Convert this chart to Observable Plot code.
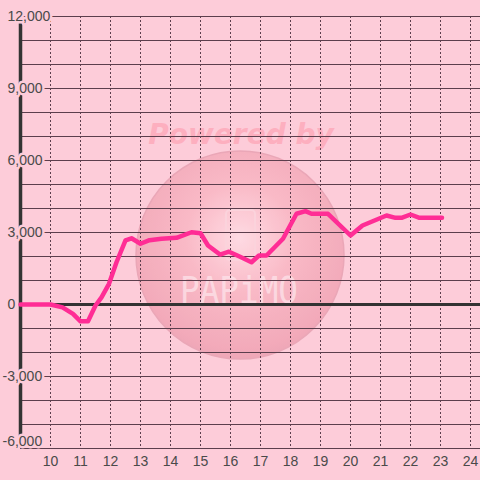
<!DOCTYPE html>
<html>
<head>
<meta charset="utf-8">
<script src="https://cdn.jsdelivr.net/npm/d3@7"></script>
<script src="https://cdn.jsdelivr.net/npm/@observablehq/plot@0.6"></script>
<style>
  html, body { margin: 0; padding: 0; background: #fdccd9; }
  #chart { width: 480px; height: 480px; }
</style>
</head>
<body>
<div id="chart"></div>
<script>
// Time of day (hours) and cumulative value
const hours = [9, 10, 10.4, 10.75, 11.0, 11.25, 11.5, 11.7, 11.95, 12.2, 12.5, 12.7, 13.0, 13.3, 13.7, 14.2, 14.7, 15.0, 15.25, 15.65, 15.95, 16.3, 16.7, 16.95, 17.2, 17.75, 18.2, 18.5, 18.7, 19.25, 20.0, 20.4, 21.2, 21.5, 21.7, 22.0, 22.3, 23.05];
const values = [0, 0, -120, -390, -700, -700, -40, 300, 860, 1760, 2670, 2760, 2530, 2680, 2740, 2780, 3010, 2970, 2460, 2080, 2200, 2000, 1760, 2040, 2040, 2740, 3780, 3890, 3780, 3780, 2875, 3290, 3710, 3610, 3610, 3750, 3610, 3610];

const xTicks = [10, 11, 12, 13, 14, 15, 16, 17, 18, 19, 20, 21, 22, 23, 24];
const yGrid = [-6000, -5000, -4000, -3000, -2000, -1000, 0, 1000, 2000, 3000, 4000, 5000, 6000, 7000, 8000, 9000, 10000, 11000, 12000];
const yLabels = [-6000, -3000, 0, 3000, 6000, 9000, 12000];

const bg = "#fdccd9";
const gridColor = "#5c3e4d";
const labelColor = "#4a4a4a";
const fmt = d => d < 0 ? "-" + d3.format(",")(-d) : d3.format(",")(d);

const data = hours.map((h, i) => ({h, v: values[i]}));
const yMin = d3.min(yLabels);

const labelOpts = {y: d => d, text: fmt, frameAnchor: "left", textAnchor: "start", fill: labelColor, stroke: bg, strokeWidth: 5, fontSize: 14};

const plot = Plot.plot({
  width: 480,
  height: 480,
  marginLeft: 20,
  marginRight: 0,
  marginTop: 16,
  marginBottom: 32,
  style: {background: bg, fontFamily: "'Liberation Sans', Arial, sans-serif", fontSize: "14px", color: labelColor},
  x: {domain: [9, 24.333], ticks: xTicks, tickSize: 0, tickPadding: 8, label: null, tickFormat: d => String(d)},
  y: {domain: [-6000, 12000], axis: null},
  marks: [
    Plot.ruleY(yGrid, {stroke: gridColor, strokeWidth: 1}),
    Plot.ruleX(xTicks, {stroke: gridColor, strokeWidth: 1, strokeDasharray: "2,2"}),
    Plot.ruleY([0], {stroke: "#333333", strokeWidth: 3.2}),
    Plot.ruleX([9], {stroke: "#333333", strokeWidth: 3.5}),
    Plot.line(data, {x: "h", y: "v", stroke: "#ff2d95", strokeWidth: 4.5, strokeLinejoin: "round", strokeLinecap: "round"}),
    Plot.text(yLabels.filter(d => d >= 0), {...labelOpts, dx: -13}),
    Plot.text(yLabels.filter(d => d < 0 && d > yMin), {...labelOpts, dx: -18}),
    Plot.text(yLabels.filter(d => d === yMin), {...labelOpts, dx: -18, dy: -7})
  ]
});

document.getElementById("chart").appendChild(plot);

// Watermark (decoration, drawn behind the marks)
const svg = d3.select(plot);
const defs = svg.insert("defs", ":first-child");
const grad = defs.append("radialGradient").attr("id", "wmGrad").attr("cx", "0.5").attr("cy", "0.42").attr("r", "0.6");
grad.append("stop").attr("offset", "0").attr("stop-color", "#ffdce4");
grad.append("stop").attr("offset", "0.45").attr("stop-color", "#f9b7c4");
grad.append("stop").attr("offset", "0.88").attr("stop-color", "#f2a7b7");
grad.append("stop").attr("offset", "1").attr("stop-color", "#eba2b3");
const firstMark = plot.querySelector("g[aria-label]");
const wm = svg.insert("g", () => firstMark).attr("aria-label", "watermark");
wm.append("circle").attr("cx", 240).attr("cy", 255).attr("r", 104)
  .attr("fill", "url(#wmGrad)").attr("opacity", 0.9)
  .attr("stroke", "#e9a3b4").attr("stroke-width", 1.5);
wm.append("rect").attr("x", 226).attr("y", 210).attr("width", 29).attr("height", 50).attr("rx", 4)
  .attr("fill", "none").attr("stroke", "#fbd3dc").attr("stroke-width", 2);
wm.append("text").attr("x", 241).attr("y", 144).attr("text-anchor", "middle")
  .attr("font-family", "'DejaVu Sans', sans-serif").attr("font-weight", "bold").attr("font-style", "italic")
  .attr("font-size", 28).attr("fill", "#fdafbf").text("Powered by");
wm.append("text").attr("x", 180).attr("y", 303).attr("text-anchor", "start")
  .attr("font-family", "'DejaVu Sans Mono', monospace").attr("font-weight", "200")
  .attr("font-size", 38).attr("textLength", 118).attr("lengthAdjust", "spacingAndGlyphs")
  .attr("fill", "#fde3ea").attr("opacity", 0.75).text("PAPiMO");
</script>
</body>
</html>
